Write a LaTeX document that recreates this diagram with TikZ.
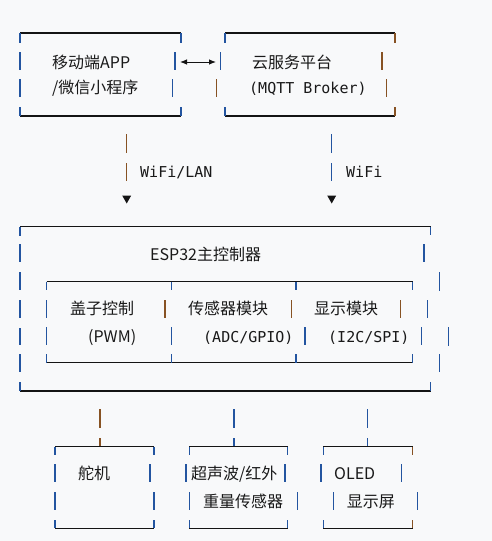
\documentclass[tikz,border=0pt]{standalone}
\usepackage{fontspec}
\newfontfamily\cjkfont{Noto Sans CJK SC}
\newfontfamily\monofont{DejaVu Sans Mono}
\usetikzlibrary{arrows.meta}
\definecolor{bgc}{RGB}{248,249,250}
\definecolor{txtc}{RGB}{25,25,25}
\definecolor{barb}{RGB}{35,85,160}
\definecolor{baro}{RGB}{135,82,35}
\definecolor{hlc}{RGB}{20,20,20}
\tikzset{
  hline/.style={draw=hlc, line width=1.1pt},
  vbarb/.style={draw=barb, line width=1.5pt},
  vbaro/.style={draw=baro, line width=1.5pt},
  cjktxt/.style={inner sep=0pt, anchor=west, text=txtc, font=\cjkfont\fontsize{16}{18}\selectfont},
  monotxt/.style={inner sep=0pt, anchor=west, text=txtc, font=\monofont\fontsize{15}{18}\selectfont},
  tri/.style={fill=hlc},
  dbl/.style={draw=hlc, line width=0.9pt, {Latex[length=7pt,width=5.5pt]}-{Latex[length=7pt,width=5.5pt]}}
}
% horizontal line: x1 x2 y
\newcommand\myH[3]{\draw[hline] (#1,#3) -- (#2,#3);}
% vertical bar: x y1 y2
\newcommand\myV[3]{\draw[vbarb] (#1,#2) -- (#1,#3);}
\newcommand\myO[3]{\draw[vbaro] (#1,#2) -- (#1,#3);}
\newcommand\myTri[1]{\fill[tri] (#1-4.5,195.5) -- (#1+4.5,195.5) -- (#1,203.5) -- cycle;}
\begin{document}
\begin{tikzpicture}[x=1pt,y=-1pt]
\fill[bgc] (0,0) rectangle (492,541);
\useasboundingbox (0,0) rectangle (492,541);

% ---------- Box A: app ----------
\myH{20}{181}{33}
\myH{20}{181}{116}
\myV{20}{33}{43}\myV{181}{33}{43}
\myV{20}{107}{116}\myV{181}{107}{116}
\myV{20}{52}{70}\myV{175}{52}{70}
\myV{20}{79}{97}\myV{172.7}{79}{97}
\node[cjktxt] (app1) at (52,62) {移动端APP};
\node[cjktxt] (app2) at (52,88) {/微信小程序};

% ---------- double arrow ----------
\coordinate (arL) at (180,62);
\coordinate (arR) at (216,62);
\draw[dbl] (arL) -- (arR);

% ---------- Box B: cloud ----------
\myH{225}{395}{33}
\myH{225}{395}{116}
\myV{225}{33}{43}\myO{395}{33}{43}
\myV{225}{107}{116}\myO{395}{107}{116}
\myV{220.7}{52}{70}\myO{382}{52}{70}
\myO{216.7}{79}{97}\myO{386.7}{79}{97}
\node[cjktxt] (cloud1) at (252,62) {云服务平台};
\node[monotxt] (cloud2) at (249,89) {(MQTT Broker)};

% ---------- connectors top ----------
\myO{126.7}{134}{153}\myO{126.7}{163}{181}
\myTri{126.7}
\node[monotxt] (lan) at (140,172) {WiFi/LAN};
\myV{331.7}{134}{153}\myV{331.7}{163}{181}
\myTri{331.7}
\node[monotxt] (wifi) at (346,172) {WiFi};

% ---------- Outer ESP32 box ----------
\myH{20}{430.7}{226.7}
\myH{20}{430.7}{391}
\myV{20}{226.7}{236}\myV{430.7}{226.7}{235}
\myV{20}{382}{391}\myV{430.7}{382}{391}
\myV{20}{244}{262}\myV{424}{244}{262}
\myV{20}{272}{290}\myV{439.3}{272}{291}
\myV{20}{300}{318}\myV{427.3}{300}{318}
\myV{20}{328}{345}\myV{448.3}{327}{346}
\myV{20}{354}{372}\myV{439.3}{354}{372}
\node[cjktxt] (esp) at (150,254) {ESP32主控制器};

% ---------- inner modules ----------
\myH{46.7}{412.7}{281.7}
\myH{46.7}{412.7}{362.7}
\foreach \xx in {46.7,171.7,296,412.7}{
  \draw[vbarb] (\xx,281.7) -- (\xx,290);
  \draw[vbarb] (\xx,354) -- (\xx,362.7);
}
\myV{46.7}{300}{318}\myO{165}{300}{318}\myO{291.7}{300}{318}\myO{400.7}{300}{318}
\myV{46.7}{327}{345}\myV{171.7}{327}{345}\myV{305}{327}{345}\myV{421.7}{327}{345}
\node[cjktxt] (m1a) at (70,308) {盖子控制};
\node[cjktxt] (m1b) at (88,337.5) {(PWM)};
\node[cjktxt] (m2a) at (188,308) {传感器模块};
\node[monotxt] (m2b) at (203,337.5) {(ADC/GPIO)};
\node[cjktxt] (m3a) at (314,308) {显示模块};
\node[monotxt] (m3b) at (328,337.5) {(I2C/SPI)};

% ---------- bottom connectors ----------
\myO{100}{409}{428}\myO{100}{438}{446.7}
\myV{234}{409}{428}\myV{234}{438}{446.7}
\myV{367.7}{409}{428}\myV{367.7}{438}{446.7}

% ---------- Box servo ----------
\myH{55}{154}{446.7}
\myH{55}{154}{528.3}
\myV{55}{446.7}{455}\myV{154}{446.7}{455}
\myV{55}{520}{528.3}\myV{154}{520}{528.3}
\myV{55}{464}{482}\myV{150}{464}{482}
\myV{55}{492}{510}\myV{154}{492}{510}
\node[cjktxt] (servo) at (78,473) {舵机};

% ---------- Box sensors ----------
\myH{189.3}{287.7}{446.7}
\myH{189.3}{287.7}{528.3}
\myV{189.3}{446.7}{455}\myV{287.7}{446.7}{455}
\myV{189.3}{520}{528.3}\myV{287.7}{520}{528.3}
\myV{186}{464}{482}\myV{285}{464}{482}
\myV{189.3}{492}{510}\myV{297.7}{492}{510}
\node[cjktxt] (sen1) at (191,474) {超声波/红外};
\node[cjktxt] (sen2) at (203,501.7) {重量传感器};

% ---------- Box OLED ----------
\myH{323.3}{412.7}{446.7}
\myH{323.3}{412.7}{528.3}
\myV{323.3}{446.7}{455}\myO{412.7}{446.7}{455}
\myV{323.3}{520}{528.3}\myO{412.7}{520}{528.3}
\myV{321}{464}{482}\myV{401.7}{464}{482}
\myV{333.3}{492}{510}\myV{417.3}{492}{510}
\node[cjktxt] (oled1) at (334,474) {OLED};
\node[cjktxt] (oled2) at (346.7,501.7) {显示屏};
\end{tikzpicture}
\end{document}
